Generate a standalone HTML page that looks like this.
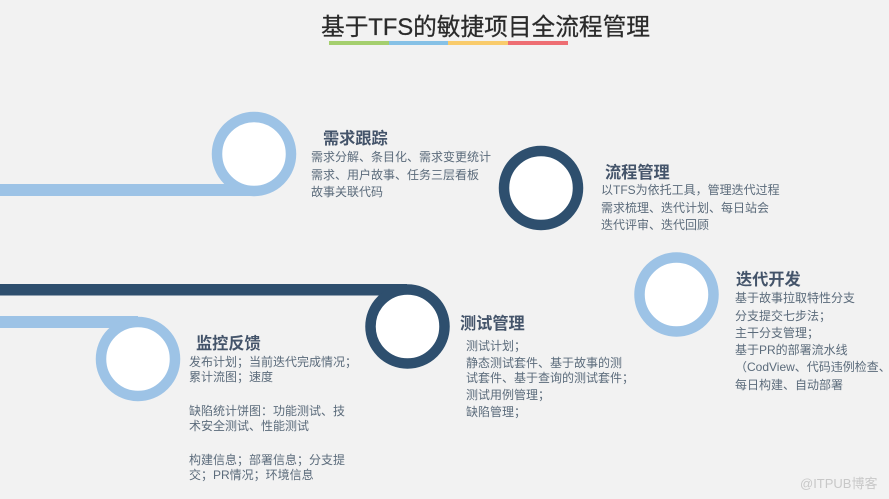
<!DOCTYPE html>
<html lang="zh">
<head>
<meta charset="utf-8">
<style>
html,body{margin:0;padding:0;background:#f2f2f2;}
#s{position:relative;width:889px;height:499px;overflow:hidden;background:#f2f2f2;font-family:"Liberation Sans","Noto Sans CJK SC",sans-serif;}
svg{position:absolute;left:0;top:0;}
.t{position:absolute;white-space:nowrap;font-size:12px;line-height:16px;color:#5b6b7b;filter:blur(.35px);}
.h{position:absolute;white-space:nowrap;font-size:16.2px;line-height:20px;font-weight:700;color:#44546a;filter:blur(.3px);}
#title{position:absolute;left:321px;top:11px;white-space:nowrap;font-size:23.7px;line-height:34px;color:#2a2a2a;-webkit-text-stroke:.25px #2a2a2a;filter:blur(.3px);}
#wm{position:absolute;left:800px;top:476px;white-space:nowrap;font-size:13px;line-height:16px;color:#c8c8c8;}
</style>
</head>
<body>
<div id="s">
<svg width="889" height="499" viewBox="0 0 889 499">
<rect x="329" y="41" width="60" height="4" fill="#a5cf6e"/>
<rect x="389" y="41" width="59" height="4" fill="#86c1e6"/>
<rect x="448" y="41" width="60" height="4" fill="#f9cb6b"/>
<rect x="508" y="41" width="60" height="4" fill="#ee6e73"/>

<rect x="0" y="184" width="254" height="12" fill="#9dc3e6"/>
<circle cx="254" cy="154" r="37" fill="#fff" stroke="#9dc3e6" stroke-width="10.5"/>

<circle cx="541" cy="188" r="37" fill="#fff" stroke="#2e4f6e" stroke-width="10.5"/>

<circle cx="676.5" cy="294.5" r="37" fill="#fff" stroke="#9dc3e6" stroke-width="10.5"/>

<rect x="0" y="284" width="407" height="11.5" fill="#2e4f6e"/>
<circle cx="407.5" cy="326.5" r="37" fill="#fff" stroke="#2e4f6e" stroke-width="10.5"/>

<rect x="0" y="316" width="138" height="12" fill="#9dc3e6"/>
<circle cx="138" cy="359" r="37" fill="#fff" stroke="#9dc3e6" stroke-width="10.5"/>
</svg>

<div id="title">基于TFS的敏捷项目全流程管理</div>

<div class="h" style="left:323px;top:129px;">需求跟踪</div>
<div class="t" style="left:311px;top:149px;">需求分解、条目化、需求变更统计</div>
<div class="t" style="left:311px;top:167px;">需求、用户故事、任务三层看板</div>
<div class="t" style="left:311px;top:184px;">故事关联代码</div>

<div class="h" style="left:605px;top:163px;">流程管理</div>
<div class="t" style="left:601px;top:182px;">以TFS为依托工具，管理迭代过程</div>
<div class="t" style="left:601px;top:200px;">需求梳理、迭代计划、每日站会</div>
<div class="t" style="left:601px;top:217px;">迭代评审、迭代回顾</div>

<div class="h" style="left:736px;top:270px;">迭代开发</div>
<div class="t" style="left:735px;top:290px;">基于故事拉取特性分支</div>
<div class="t" style="left:735px;top:308px;">分支提交七步法；</div>
<div class="t" style="left:735px;top:325px;">主干分支管理；</div>
<div class="t" style="left:735px;top:342px;">基于PR的部署流水线</div>
<div class="t" style="left:735px;top:359px;">（CodView、代码违例检查、</div>
<div class="t" style="left:735px;top:377px;">每日构建、自动部署</div>

<div class="h" style="left:460px;top:314px;">测试管理</div>
<div class="t" style="left:466px;top:338px;">测试计划；</div>
<div class="t" style="left:466px;top:355px;">静态测试套件、基于故事的测</div>
<div class="t" style="left:466px;top:370px;">试套件、基于查询的测试套件；</div>
<div class="t" style="left:466px;top:387px;">测试用例管理；</div>
<div class="t" style="left:466px;top:404px;">缺陷管理；</div>

<div class="h" style="left:196px;top:334px;">监控反馈</div>
<div class="t" style="left:189px;top:354px;">发布计划；当前迭代完成情况；</div>
<div class="t" style="left:189px;top:369px;">累计流图；速度</div>
<div class="t" style="left:189px;top:403px;">缺陷统计饼图：功能测试、技</div>
<div class="t" style="left:189px;top:418px;">术安全测试、性能测试</div>
<div class="t" style="left:189px;top:452px;">构建信息；部署信息；分支提</div>
<div class="t" style="left:189px;top:467px;">交；PR情况；环境信息</div>

<div id="wm">@ITPUB博客</div>
</div>
</body>
</html>
